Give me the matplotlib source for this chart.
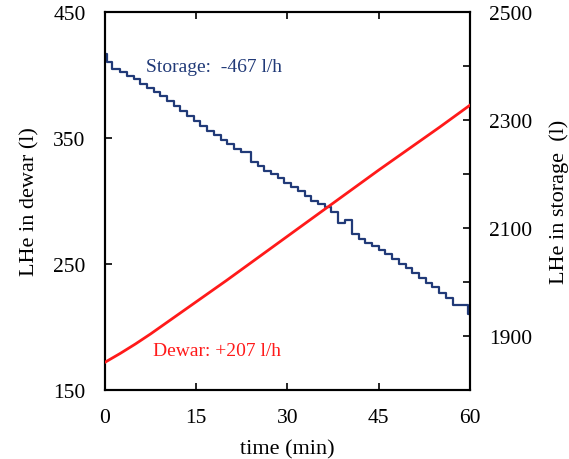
import matplotlib.pyplot as plt

# time axis (min) and dewar level (l)
dewar_t = [0, 2.5, 5, 7.5, 10, 12.5, 15, 20, 25, 30, 35, 40, 45, 50, 55, 60]
dewar_lhe = [172, 179, 186.5, 194.5, 203, 211.5, 220, 237, 254.5, 272, 289.5, 307, 324.5, 341.5, 358.5, 376]

# storage level (l)
storage_t = [0, 0.3, 1.1, 2.4, 3.6, 4.7, 5.8, 6.9, 8.0, 9.1, 10.2, 11.3, 12.4, 13.5, 14.6,
             15.7, 16.8, 17.9, 19.0, 20.1, 21.2, 22.3, 24.0, 25.1, 26.2, 27.3, 28.4, 29.5,
             30.6, 31.7, 32.8, 33.9, 35.0, 36.1, 37.2, 38.3, 39.5, 40.6, 41.7, 42.8, 43.9,
             45.0, 46.1, 47.2, 48.3, 49.4, 50.5, 51.6, 52.7, 53.8, 54.9, 56.0, 57.2, 59.6, 60]
storage_lhe = [2422, 2407, 2394, 2389, 2382, 2375, 2367, 2359, 2351, 2344, 2335, 2326, 2316, 2307, 2298,
               2289, 2280, 2272, 2263, 2255, 2247, 2241, 2222, 2214, 2206, 2199, 2192, 2184,
               2176, 2168, 2159, 2150, 2144, 2138, 2130, 2110, 2115, 2088, 2080, 2073, 2066,
               2060, 2052, 2042, 2034, 2026, 2016, 2007, 1999, 1990, 1980, 1971, 1957, 1941, 1941]

x_ticks = [0, 15, 30, 45, 60]
left_ticks = [150, 250, 350, 450]
right_ticks = [1900, 2000, 2100, 2200, 2300, 2400, 2500]
right_labels = ["1900", "", "2100", "", "2300", "", "2500"]

navy = "#213a78"
red = "#ff1a1a"

plt.rcParams['font.family'] = ['Liberation Serif', 'DejaVu Serif']

fig = plt.figure(figsize=(5.69, 4.6), dpi=100)
ax = fig.add_axes([0.1845, 0.15, 0.6415, 0.822])
ax2 = ax.twinx()

ax.plot(dewar_t, dewar_lhe, color=red, lw=2.0, zorder=3)
ax2.plot(storage_t, storage_lhe, color=navy, lw=1.6, drawstyle='steps-post')
ax.set_zorder(ax2.get_zorder() + 1)
ax.patch.set_visible(False)

ax.set_xlim(0, 60)
ax.set_ylim(150, 450)
ax2.set_ylim(1800, 2500)
ax.set_xticks(x_ticks)
ax.set_yticks(left_ticks)
ax2.set_yticks(right_ticks)
ax2.set_yticklabels(right_labels)

ax.tick_params(axis='x', direction='in', length=5, width=1.2, top=True, labelsize=15.5, pad=13)
ax.tick_params(axis='y', direction='in', length=5, width=1.2, labelsize=15.5, pad=14)
ax2.tick_params(axis='y', direction='in', length=5, width=1.2, labelsize=15.5, pad=14)
for a in (ax, ax2):
    for s in a.spines.values():
        s.set_linewidth(1.5)

ax.set_xlabel("time (min)", fontsize=16, labelpad=9)
ax.set_ylabel("LHe in dewar (l)", fontsize=16, labelpad=10)
ax2.set_ylabel("LHe in storage  (l)", fontsize=16, labelpad=12)

ax.text(6.7, 407, "Storage:  -467 l/h", color=navy, fontsize=14, va='center')
ax.text(7.9, 181, "Dewar: +207 l/h", color=red, fontsize=14, va='center')

fig.savefig("out.png", dpi=100)
